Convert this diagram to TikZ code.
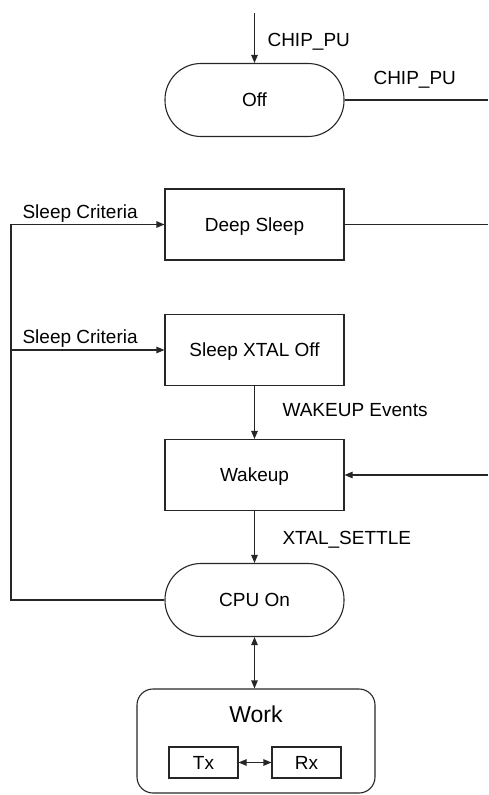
\documentclass[tikz,border=0pt]{standalone}
\usepackage{fontspec}
\setmainfont{Liberation Sans}
\usetikzlibrary{arrows.meta}
\begin{document}
\begin{tikzpicture}[x=1pt,y=-1pt, line width=1.1pt, draw=black!85,
  every node/.style={font=\fontsize{19}{22}\selectfont, text=black},
  state/.style={draw=black!85, rounded corners=36pt, minimum width=179pt, minimum height=73pt, inner sep=0pt, text height=13.6pt, text depth=0pt},
  box/.style={draw=black!85, minimum width=179pt, minimum height=71pt, inner sep=0pt, text height=13.6pt, text depth=0pt},
  small/.style={draw=black!85, minimum width=69pt, minimum height=31pt, inner sep=0pt, text height=13.6pt, text depth=0pt},
  lbl/.style={anchor=west, inner sep=0pt},
  arr/.style={-{Triangle[length=8pt,width=6.5pt]}},
  darr/.style={{Triangle[length=8pt,width=6.5pt]}-{Triangle[length=8pt,width=6.5pt]}},
]
\useasboundingbox (0,0) rectangle (488,795);

% Off
\node[state] (off) at (254.5,100) {Off};
\coordinate (pu) at (254.5,13);
\coordinate (offr) at (488,100);
\draw[arr] (pu) -- (off.north);
\node[lbl] at (267,42) {CHIP\_PU};
\draw (off.east) -- (offr);
\node[lbl] at (373,80) {CHIP\_PU};

% states
\node[box] (deep) at (254.5,224.5) {Deep Sleep};
\node[box] (sxo) at (254.5,350) {Sleep XTAL Off};
\node[box] (wake) at (254.5,475) {Wakeup};
\node[state] (cpu) at (254.5,600) {CPU On};

\coordinate (deepr) at (488,224.5);
\draw (deep.east) -- (deepr);
\coordinate (waker) at (488,475);
\draw[arr] (waker) -- (wake.east);

\draw[arr] (sxo.south) -- (wake.north);
\node[lbl] at (282,410) {WAKEUP Events};
\draw[arr] (wake.south) -- (cpu.north);
\node[lbl] at (282,540) {XTAL\_SETTLE};

% left loop
\coordinate (L1) at (11,600);
\coordinate (L2) at (11,224.5);
\coordinate (L3) at (11,350);
\draw[arr] (cpu.west) -- (L1) -- (L2) -- (deep.west);
\draw[arr] (L3) -- (sxo.west);
\node[lbl] at (22,214) {Sleep Criteria};
\node[lbl] at (22,339) {Sleep Criteria};

% Work
\node[draw=black!85, rounded corners=16pt, minimum width=238pt, minimum height=104pt, inner sep=0pt] (work) at (256,741) {};
\node[font=\fontsize{23}{26}\selectfont] (worklbl) at (256,714) {Work};
\node[small] (tx) at (203.5,762.5) {Tx};
\node[small] (rx) at (306.5,762.5) {Rx};
\draw[darr] (cpu.south) -- (work.north -| cpu.south);
\draw[darr] (tx.east) -- (rx.west);
\end{tikzpicture}
\end{document}
